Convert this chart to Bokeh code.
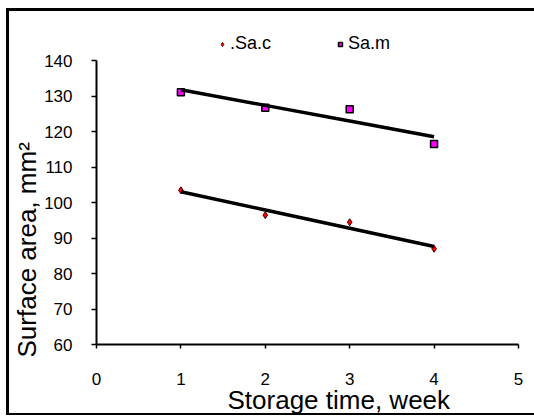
import numpy as np
from bokeh.plotting import figure
from bokeh.models import Range1d, Legend, LegendItem, Title, FixedTicker, InlineStyleSheet
from bokeh.embed import file_html
from bokeh.resources import INLINE

weeks = [1, 2, 3, 4]
sa_c = [103.5, 96.5, 94.5, 87.0]
sa_m = [131.2, 126.8, 126.4, 116.6]
x_ticks = [0, 1, 2, 3, 4, 5]
y_ticks = [60, 70, 80, 90, 100, 110, 120, 130, 140]
series_names = [".Sa.c", "Sa.m"]
x_title = "Storage time, week"
y_title = "Surface area, mm\u00b2"

FONT = "Liberation Sans"

p = figure(width=534, height=417, output_backend="svg", toolbar_location=None,
           x_range=Range1d(0, 5), y_range=Range1d(60, 150),
           min_border_left=96, min_border_right=16, min_border_top=25, min_border_bottom=73)
p.stylesheets = [InlineStyleSheet(css=(
    ":host::after { content: ''; position: absolute; left: 6px; top: 8px; "
    "width: 540px; height: 407px; border-left: 3px solid black; "
    "border-top: 3px solid black; border-bottom: 2px solid black; "
    "box-sizing: border-box; pointer-events: none; z-index: 10; }"))]
p.outline_line_color = None
p.xgrid.grid_line_color = None
p.ygrid.grid_line_color = None
p.background_fill_color = "white"
p.border_fill_color = "white"

for ax in (p.xaxis[0], p.yaxis[0]):
    ax.axis_line_color = "black"
    ax.axis_line_width = 2
    ax.major_tick_line_color = "black"
    ax.major_tick_line_width = 1.5
    ax.minor_tick_line_color = None
    ax.major_tick_in = 0
    ax.major_label_text_font = FONT
    ax.major_label_text_font_size = "17px"
    ax.major_label_text_color = "black"

p.xaxis[0].ticker = FixedTicker(ticks=x_ticks)
p.yaxis[0].ticker = FixedTicker(ticks=y_ticks)
p.yaxis[0].bounds = (60, 140)
p.xaxis[0].major_tick_out = 4
p.yaxis[0].major_tick_out = 5
p.xaxis[0].major_label_standoff = 24
p.yaxis[0].major_label_standoff = 19

r_c = p.scatter(weeks, sa_c, marker="diamond", size=7, fill_color="red",
                line_color="#4a0000", line_width=1)
r_m = p.scatter(weeks, sa_m, marker="square", size=7, fill_color="#ff00ff",
                line_color="black", line_width=1.5)

xw = np.array(weeks, dtype=float)
for ys in (sa_c, sa_m):
    k, b = np.polyfit(xw, np.array(ys, dtype=float), 1)
    p.line(xw, k * xw + b, line_color="black", line_width=3.5)

legend = Legend(items=[LegendItem(label=series_names[0], renderers=[r_c]),
                       LegendItem(label=series_names[1], renderers=[r_m])],
                orientation="horizontal", location=(121, 290),
                spacing=64, glyph_width=10, glyph_height=10, label_standoff=3,
                padding=0, margin=0, border_line_color=None,
                background_fill_alpha=0, label_text_font=FONT,
                label_text_color="black",
                label_text_font_size="18px", label_height=18)
p.add_layout(legend)

p.add_layout(Title(text=x_title, align="left", offset=131, standoff=-9,
                   text_font=FONT, text_font_size="26px", text_font_style="normal",
                   text_color="black"), "below")
p.add_layout(Title(text=y_title, align="left", offset=-13, standoff=0,
                   text_font=FONT, text_font_size="26px", text_font_style="normal",
                   text_color="black"), "left")

open("out.html", "w").write(file_html(p, INLINE))
